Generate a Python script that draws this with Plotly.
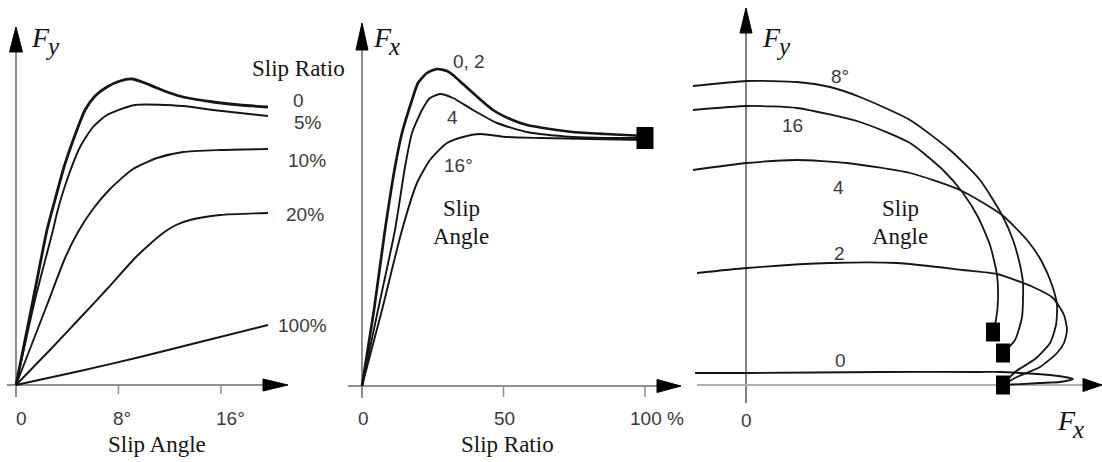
import plotly.graph_objects as go

W, H = 1102, 462

# ---------------- Panel 1: lateral force vs slip angle (per slip ratio)
alpha_sr0 = [0, 1.33, 2.42, 3.04, 3.75, 4.61, 5.39, 6.17, 7.10, 8.12, 9.06, 10.07, 11.01, 12.02, 13.04, 15.38, 17.49, 19.67]
fy_sr0 = [0, 0.85, 1.55, 1.85, 2.18, 2.50, 2.75, 2.89, 2.98, 3.04, 3.06, 3.02, 2.97, 2.92, 2.88, 2.83, 2.80, 2.78]
alpha_sr5 = [0, 1.48, 2.89, 3.20, 3.98, 5.00, 6.01, 7.10, 9.29, 13.04, 15.38, 19.67]
fy_sr5 = [0, 0.85, 1.55, 1.72, 2.05, 2.38, 2.58, 2.70, 2.80, 2.79, 2.75, 2.69]
alpha_sr10 = [0, 2.42, 3.83, 4.84, 6.01, 7.34, 9.13, 11.01, 13.04, 15.93, 19.67]
fy_sr10 = [0, 0.80, 1.27, 1.53, 1.76, 1.96, 2.16, 2.27, 2.33, 2.35, 2.36]
alpha_sr20 = [0, 2.65, 5.00, 7.18, 9.29, 10.46, 11.48, 12.49, 13.58, 15.93, 19.67]
fy_sr20 = [0, 0.35, 0.67, 0.97, 1.27, 1.41, 1.52, 1.60, 1.65, 1.70, 1.72]
alpha_sr100 = [0, 5.00, 9.68, 14.36, 19.67]
fy_sr100 = [0, 0.14, 0.28, 0.43, 0.60]
slip_ratio_labels = ["0", "5%", "10%", "20%", "100%"]
alpha_ticks = [0, 8, 16]
alpha_tick_text = ["0", "8°", "16°"]

# ---------------- Panel 2: longitudinal force vs slip ratio (per slip angle)
slip_a0 = [0, 4.24, 8.13, 11.66, 14.13, 17.67, 19.79, 22.97, 26.50, 30.04, 32.16, 35.69, 39.22, 46.29, 52.30, 58.30, 66.43, 74.56, 85.87, 100]
fx_a0 = [0, 0.76, 1.56, 2.19, 2.53, 2.86, 3.03, 3.13, 3.17, 3.15, 3.11, 3.02, 2.93, 2.76, 2.67, 2.61, 2.57, 2.54, 2.52, 2.50]
slip_a4 = [0, 5.65, 11.66, 15.19, 17.67, 21.20, 24.03, 27.56, 32.16, 39.22, 47.70, 58.30, 74.56, 85.87, 100]
fx_a4 = [0, 0.76, 1.56, 2.19, 2.53, 2.76, 2.88, 2.92, 2.88, 2.76, 2.63, 2.54, 2.49, 2.48, 2.48]
slip_a16 = [0, 7.07, 14.13, 19.43, 24.03, 30.04, 35.69, 41.70, 51.24, 62.90, 80.57, 100]
fx_a16 = [0, 0.76, 1.56, 2.03, 2.26, 2.43, 2.49, 2.52, 2.49, 2.48, 2.47, 2.46]
slip_ticks = [0, 50, 100]
slip_tick_text = ["0", "50", "100 %"]

# ---------------- Panel 3: friction ellipse, Fy vs Fx (per slip angle)
fx_e8 = [-0.53, 0.01, 0.51, 0.84, 1.14, 1.64, 2.04, 2.34, 2.56, 2.67, 2.74, 2.77, 2.76, 2.69, 2.57]
fy_e8 = [2.99, 3.04, 3.03, 2.98, 2.88, 2.65, 2.35, 2.05, 1.70, 1.45, 1.20, 1.02, 0.68, 0.45, 0.32]
fx_e16 = [-0.53, 0.01, 0.51, 1.14, 1.64, 1.97, 2.17, 2.32, 2.44, 2.51, 2.52, 2.50, 2.47]
fy_e16 = [2.75, 2.79, 2.77, 2.63, 2.42, 2.15, 1.92, 1.68, 1.40, 1.10, 0.85, 0.65, 0.53]
fx_e4 = [-0.53, 0.01, 0.51, 1.01, 1.64, 2.14, 2.56, 2.81, 2.96, 3.06, 3.11, 3.10, 3.04, 2.89, 2.69, 2.57]
fy_e4 = [2.15, 2.22, 2.25, 2.22, 2.12, 1.95, 1.70, 1.45, 1.23, 1.00, 0.80, 0.60, 0.42, 0.26, 0.13, 0.00]
fx_e2 = [-0.49, 0.01, 0.84, 1.51, 2.17, 2.51, 2.87, 3.07, 3.18, 3.21, 3.18, 3.11, 2.94, 2.71, 2.57]
fy_e2 = [1.12, 1.17, 1.22, 1.22, 1.15, 1.11, 0.98, 0.87, 0.70, 0.55, 0.42, 0.32, 0.18, 0.08, 0.00]
fx_e0 = [-0.51, 0.01, 1.34, 2.34, 2.54, 3.04, 3.27, 3.14, 2.94, 2.57]
fy_e0 = [0.12, 0.12, 0.13, 0.13, 0.13, 0.10, 0.06, 0.03, 0.02, 0.00]

# ---------------- layout geometry (pixels)
P1 = dict(ox=16, oy=385, sx=12.81, sy=100)
P2 = dict(ox=362, oy=386, sx=2.83, sy=100)
P3 = dict(ox=746, oy=385, sx=100, sy=100)

INK = "#151515"
NUM = "#3a3a3a"
AXG = "#8f8f8f"
SANS = "Liberation Sans"
SERIF = "Liberation Serif"


def rng(p):
    xr = [(0 - p["ox"]) / p["sx"], (W - p["ox"]) / p["sx"]]
    yr = [(p["oy"] - H) / p["sy"], p["oy"] / p["sy"]]
    return xr, yr


def px(x, y):
    return x / W, 1 - y / H


fig = go.Figure()


def curve(x, y, ax, width=1.9):
    fig.add_trace(go.Scatter(
        x=x, y=y, mode="lines", xaxis=ax[0], yaxis=ax[1],
        line=dict(color=INK, width=width, shape="spline", smoothing=0.6),
        hoverinfo="skip", showlegend=False, cliponaxis=False))


A1, A2, A3 = ("x", "y"), ("x2", "y2"), ("x3", "y3")

curve(alpha_sr0, fy_sr0, A1, 2.8)
curve(alpha_sr5, fy_sr5, A1)
curve(alpha_sr10, fy_sr10, A1)
curve(alpha_sr20, fy_sr20, A1)
curve(alpha_sr100, fy_sr100, A1)

curve(slip_a0, fx_a0, A2, 2.7)
curve(slip_a4, fx_a4, A2)
curve(slip_a16, fx_a16, A2)

for fx, fy in [(fx_e8, fy_e8), (fx_e16, fy_e16), (fx_e4, fy_e4), (fx_e2, fy_e2), (fx_e0, fy_e0)]:
    curve(fx, fy, A3, 1.8)

shapes = []


def end_block(x, y, ax, w, h):
    # filled block marking the locked-wheel end of a curve
    shapes.append(dict(type="rect", xref=ax[0], yref=ax[1],
                       xsizemode="pixel", ysizemode="pixel",
                       xanchor=x, yanchor=y,
                       x0=-w / 2, x1=w / 2, y0=-h / 2, y1=h / 2,
                       fillcolor="black", line=dict(width=0)))


end_block(slip_a0[-1], fx_a0[-1] - 0.02, A2, 17, 22)
end_block(fx_e16[-1], fy_e16[-1], A3, 14, 19)
end_block(fx_e8[-1], fy_e8[-1], A3, 14, 19)
end_block(fx_e0[-1], fy_e0[-1], A3, 14, 19)


def line_px(x0, y0, x1, y1, color=AXG, width=2):
    a, b = px(x0, y0)
    c, d = px(x1, y1)
    shapes.append(dict(type="line", xref="paper", yref="paper", x0=a, y0=b, x1=c, y1=d,
                       line=dict(color=color, width=width), layer="below"))


def tri_px(pts):
    path = "M " + " L ".join("%f,%f" % px(x, y) for x, y in pts) + " Z"
    shapes.append(dict(type="path", xref="paper", yref="paper", path=path,
                       fillcolor="black", line=dict(color="black", width=1)))


def arrow_up(x, tip, base, hw=6.5):
    tri_px([(x, tip), (x - hw, base), (x + hw, base)])


def arrow_right(y, tip, base, hh=6.5):
    tri_px([(tip, y), (base, y - hh), (base, y + hh)])


# axes of panel 1
line_px(16, 397, 16, 45)
line_px(7, 385, 268, 385)
arrow_up(16, 27, 52)
arrow_right(385, 288, 263, 6)
for t in alpha_ticks[1:]:
    xx = P1["ox"] + t * P1["sx"]
    line_px(xx, 385, xx, 394, width=1.5)

# axes of panel 2
line_px(362, 398, 362, 45)
line_px(348, 386, 662, 386)
arrow_up(362, 23, 50, 6)
arrow_right(386, 681, 657)
for t in slip_ticks[1:]:
    xx = P2["ox"] + t * P2["sx"]
    line_px(xx, 386, xx, 397, width=1.5)

# axes of panel 3
line_px(746, 403, 746, 28, color="#3c3c3c", width=1.3)
line_px(697, 385, 1088, 385, color="#b0b0b0", width=2)
arrow_up(746, 8, 33, 6)
arrow_right(385, 1102, 1083)

annotations = []


def text(x, y, s, size=19, color=NUM, family=SANS, anchor="center", style="normal"):
    a, b = px(x, y)
    annotations.append(dict(x=a, y=b, xref="paper", yref="paper", text=s, showarrow=False,
                            xanchor=anchor, yanchor="middle",
                            font=dict(family=family, size=size, color=color, style=style)))


def force_label(x, y, sub):
    text(x, y, "F", 28, INK, SERIF, style="italic")
    text(x + 12, y + 9, sub, 25, INK, SERIF, style="italic")


# panel 1 text
force_label(40, 38, "y")
text(299, 68, "Slip Ratio", 23, INK, SERIF)
for lab, (lx, ly) in zip(slip_ratio_labels, [(298, 101), (308, 123), (307, 160), (305, 214), (302, 325)]):
    text(lx, ly, lab)
for t, s in zip(alpha_ticks, alpha_tick_text):
    xx = P1["ox"] + t * P1["sx"]
    text(xx - 7 if t else xx + 5, 418, s, anchor="left" if t else "center")
text(157, 444, "Slip Angle", 23, INK, SERIF)

# panel 2 text
force_label(382, 38, "x")
text(469, 61, "0, 2")
text(452, 117, "4")
text(442, 165, "16°", anchor="left")
text(461, 208, "Slip", 23, INK, SERIF)
text(461, 236, "Angle", 23, INK, SERIF)
for t, s in zip(slip_ticks, slip_tick_text):
    xx = P2["ox"] + t * P2["sx"]
    text(xx + (12 if t == 100 else 1), 418, s)
text(507, 444, "Slip Ratio", 23, INK, SERIF)

# panel 3 text
force_label(771, 38, "y")
text(829, 77, "8°", anchor="left")
text(792, 125, "16")
text(838, 187, "4")
text(900, 208, "Slip", 23, INK, SERIF)
text(900, 236, "Angle", 23, INK, SERIF)
text(839, 253, "2")
text(840, 360, "0")
text(746, 420, "0")
force_label(1066, 420, "x")

layout_axes = {}
for i, p in enumerate([P1, P2, P3], start=1):
    xr, yr = rng(p)
    sfx = "" if i == 1 else str(i)
    layout_axes["xaxis" + sfx] = dict(range=xr, domain=[0, 1], visible=False, fixedrange=True,
                                      anchor="y" + sfx)
    layout_axes["yaxis" + sfx] = dict(range=yr, domain=[0, 1], visible=False, fixedrange=True,
                                      anchor="x" + sfx)

fig.update_layout(
    width=W, height=H,
    margin=dict(l=0, r=0, t=0, b=0),
    paper_bgcolor="white", plot_bgcolor="rgba(0,0,0,0)",
    shapes=shapes, annotations=annotations,
    showlegend=False,
    **layout_axes,
)

fig.write_html("out.html")
